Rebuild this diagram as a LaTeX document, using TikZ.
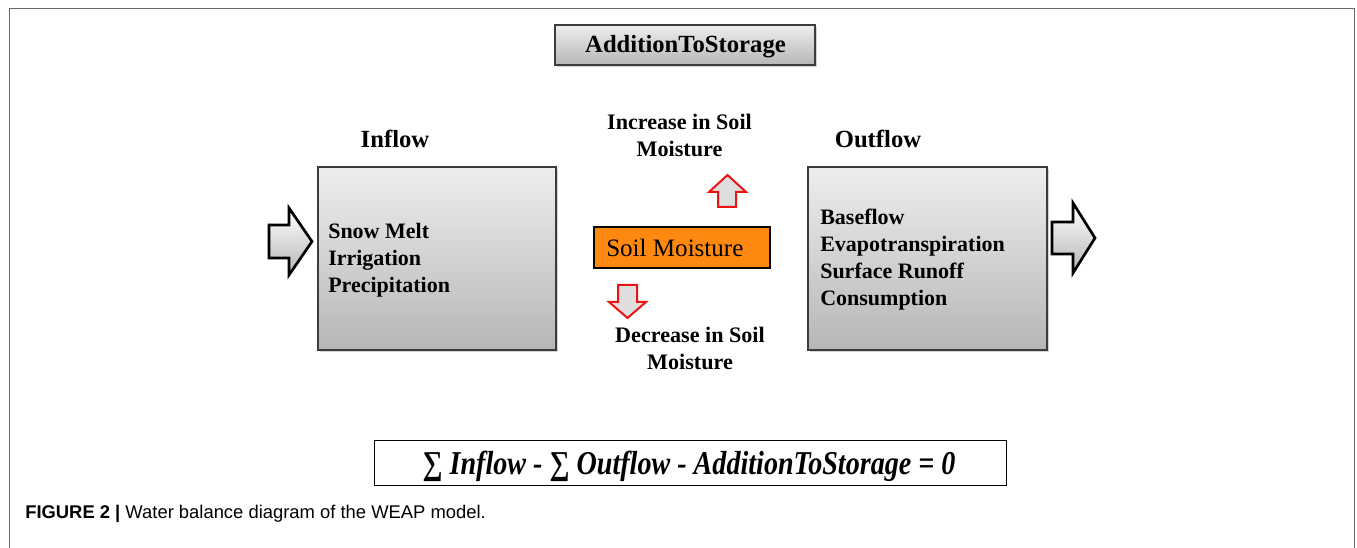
\documentclass[tikz,border=0pt]{standalone}
\usepackage{fontspec}
\usepackage{graphicx}
\setmainfont{Liberation Serif}
\newfontfamily\capfont{Liberation Sans}
\usetikzlibrary{fit,shadows}
\definecolor{boxtop}{RGB}{238,238,238}
\definecolor{boxbot}{RGB}{182,182,182}
\definecolor{boxline}{RGB}{60,60,60}
\definecolor{framecol}{RGB}{105,105,105}
\definecolor{soil}{RGB}{255,136,16}
\definecolor{arrfill}{RGB}{222,222,222}
\definecolor{arrred}{RGB}{235,20,20}
\begin{document}
\begin{tikzpicture}[x=0.75pt,y=-0.75pt,
  gbox/.style={inner sep=0pt, draw=boxline, line width=0.9pt, top color=boxtop, bottom color=boxbot,
    drop shadow={shadow xshift=1.3pt, shadow yshift=-1.3pt, opacity=0.35}},
  titletext/.style={font=\fontsize{18.5}{22}\selectfont\bfseries},
  listtext/.style={font=\fontsize{16.5}{20.25}\selectfont\bfseries, align=left, inner sep=0pt},
  midtext/.style={font=\fontsize{16.6}{20.25}\selectfont\bfseries, align=center, inner sep=0pt},
  blockarrow/.style={draw=black, line width=2pt, line join=miter, top color=white, bottom color=boxbot},
  smallarrow/.style={draw=arrred, line width=1.5pt, line join=miter, fill=arrfill},
  framestyle/.style={draw=framecol, line width=1.1pt}]
\useasboundingbox (0,0) rectangle (1357,548);

% outer frame
\draw[framestyle] (9.5,548) -- (9.5,8.5) -- (1354.5,8.5) -- (1354.5,548);

% AdditionToStorage
\node[gbox, fit={(555,25)(815,65)}] (atsbox) {};
\node[titletext, anchor=base, inner sep=0pt] (atstext) at (685.5,53) {AdditionToStorage};

% titles
\node[titletext, anchor=base, inner sep=0pt] (inflowlbl) at (395,148) {Inflow};
\node[titletext, anchor=base, inner sep=0pt] (outflowlbl) at (878,148) {Outflow};

% inflow box
\node[gbox, fit={(318,167)(556,350)}] (inbox) {};
\node[listtext, anchor=base west] (intext) at (328,293) {Snow Melt\\Irrigation\\Precipitation};

% outflow box
\node[gbox, fit={(808,167)(1047,350)}] (outbox) {};
\node[listtext, anchor=base west] (outtext) at (820,306) {Baseflow\\Evapotranspiration\\Surface Runoff\\Consumption};

% block arrows
\draw[blockarrow] (269,225) -- (289,225) -- (289,208) -- (312,241.5) -- (289,275) -- (289,258) -- (269,258) -- cycle;
\draw[blockarrow] (1052,222) -- (1073,222) -- (1073,203) -- (1095,238) -- (1073,273) -- (1073,254) -- (1052,254) -- cycle;

% soil moisture
\node[fit={(594,227)(770,268)}, inner sep=0pt, draw=black, line width=2pt, fill=soil] (soilbox) {};
\node[anchor=base west, inner sep=0pt, font=\fontsize{18.8}{22}\selectfont] (soiltext) at (606,257) {Soil Moisture};

% small red arrows
\draw[smallarrow] (718,207) -- (718,192) -- (709,192) -- (727.5,175) -- (746,192) -- (736,192) -- (736,207) -- cycle;
\draw[smallarrow] (618,285) -- (637,285) -- (637,302) -- (646,302) -- (627.5,318) -- (609,302) -- (618,302) -- cycle;

\node[midtext, anchor=base] (inctext) at (679.5,157) {Increase in Soil\\Moisture};
\node[midtext, anchor=base] (dectext) at (690,370) {Decrease in Soil\\Moisture};

% equation
\node[fit={(374,440)(1006,485)}, inner sep=0pt, draw=black, line width=0.6pt] (eqbox) {};
\node[anchor=base, inner sep=0pt, font=\fontsize{25}{28}\selectfont\bfseries\itshape] (eqtext) at (689,475)
  {\scalebox{0.843}[1]{∑ Inflow - ∑ Outflow - AdditionToStorage = 0}};

% caption
\node[anchor=base west, inner sep=0pt, font=\capfont\fontsize{13.8}{16}\selectfont] (caption) at (25,519)
  {\textbf{FIGURE 2 |} Water balance diagram of the WEAP model.};
\end{tikzpicture}
\end{document}
